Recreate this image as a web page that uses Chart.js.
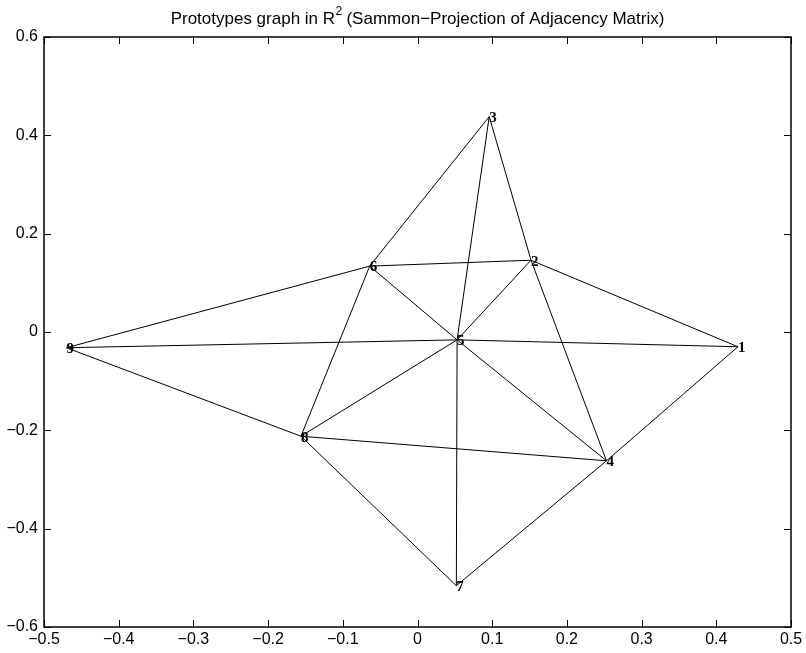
<!DOCTYPE html>
<html>
<head>
<meta charset="utf-8">
<script src="https://cdn.jsdelivr.net/npm/chart.js@4"></script>
<style>
  html, body { margin: 0; padding: 0; background: #fff; }
  #wrap { width: 806px; height: 653px; }
</style>
</head>
<body>
<div id="wrap"><canvas id="c" width="806" height="653"></canvas></div>
<script>
// Prototype positions (Sammon projection) and graph edges
const nodeLabels = ['1', '2', '3', '4', '5', '6', '7', '8', '9'];
const nodeX = [0.429, 0.152, 0.096, 0.253, 0.053, -0.064, 0.052, -0.156, -0.470];
const nodeY = [-0.030, 0.146, 0.438, -0.262, -0.016, 0.134, -0.516, -0.212, -0.032];
const edgeFrom = [9, 9, 9, 6, 6, 6, 6, 3, 3, 2, 2, 2, 5, 5, 5, 5, 8, 8, 7, 4];
const edgeTo   = [6, 5, 8, 3, 2, 5, 8, 5, 2, 4, 5, 1, 1, 4, 8, 7, 4, 7, 4, 1];
const xTicks = [-0.5, -0.4, -0.3, -0.2, -0.1, 0, 0.1, 0.2, 0.3, 0.4, 0.5];
const yTicks = [-0.6, -0.4, -0.2, 0, 0.2, 0.4, 0.6];
const titleMain = 'Prototypes graph in R';
const titleSup = '2';
const titleRest = ' (Sammon\u2212Projection of Adjacency Matrix)';

const fmt = v => (v < 0 ? '\u2212' : '') + (Math.abs(v) < 1e-9 ? '0' : String(Math.abs(v)));

const edgeSets = edgeFrom.map((a, i) => {
  const b = edgeTo[i];
  return {
    type: 'line',
    data: [{ x: nodeX[a - 1], y: nodeY[a - 1] }, { x: nodeX[b - 1], y: nodeY[b - 1] }],
    borderColor: '#000',
    borderWidth: 1,
    pointRadius: 0,
    fill: false,
    tension: 0
  };
});

const nodeSet = {
  type: 'scatter',
  data: nodeX.map((x, i) => ({ x, y: nodeY[i] })),
  pointRadius: 0,
  label: 'nodes'
};

// Frame, inward tick marks, node numbers and the title
const decor = {
  id: 'decor',
  afterDatasetsDraw(chart) {
    const ctx = chart.ctx;
    const a = chart.chartArea;
    const xs = chart.scales.x, ys = chart.scales.y;
    const tl = 7;
    ctx.save();
    ctx.strokeStyle = '#000';
    ctx.lineWidth = 1;
    ctx.beginPath();
    xTicks.forEach(v => {
      const px = Math.round(xs.getPixelForValue(v)) + 0.5;
      ctx.moveTo(px, a.bottom); ctx.lineTo(px, a.bottom - tl);
      ctx.moveTo(px, a.top); ctx.lineTo(px, a.top + tl);
    });
    yTicks.forEach(v => {
      const py = Math.round(ys.getPixelForValue(v)) + 0.5;
      ctx.moveTo(a.left, py); ctx.lineTo(a.left + tl, py);
      ctx.moveTo(a.right, py); ctx.lineTo(a.right - tl, py);
    });
    ctx.stroke();
    ctx.lineWidth = 1.5;
    ctx.strokeRect(a.left, a.top, a.right - a.left, a.bottom - a.top);

    // node numbers
    ctx.fillStyle = '#000';
    ctx.font = 'bold 15px "Liberation Serif", "DejaVu Serif", serif';
    ctx.textAlign = 'left';
    ctx.textBaseline = 'middle';
    nodeLabels.forEach((t, i) => {
      const px = xs.getPixelForValue(nodeX[i]);
      const py = ys.getPixelForValue(nodeY[i]);
      ctx.fillText(t, px, py + 1.5);
    });

    // title with superscript
    const mainFont = '17px "Liberation Sans", Arial, sans-serif';
    const supFont = '12px "Liberation Sans", Arial, sans-serif';
    ctx.textBaseline = 'alphabetic';
    ctx.font = mainFont;
    const w1 = ctx.measureText(titleMain).width;
    const w3 = ctx.measureText(titleRest).width;
    ctx.font = supFont;
    const w2 = ctx.measureText(titleSup).width;
    const total = w1 + w2 + w3;
    let tx = (a.left + a.right) / 2 - total / 2;
    const base = 24;
    ctx.font = mainFont;
    ctx.fillText(titleMain, tx, base);
    tx += w1;
    ctx.font = supFont;
    ctx.fillText(titleSup, tx + 0.5, base - 9);
    tx += w2;
    ctx.font = mainFont;
    ctx.fillText(titleRest, tx, base);
    ctx.restore();
  }
};

new Chart(document.getElementById('c'), {
  type: 'scatter',
  data: { datasets: [...edgeSets, nodeSet] },
  options: {
    responsive: false,
    animation: false,
    layout: { padding: { top: 37, right: 15, left: 0, bottom: 0 } },
    plugins: { legend: { display: false }, title: { display: false }, tooltip: { enabled: false } },
    scales: {
      x: {
        type: 'linear',
        min: -0.5, max: 0.5,
        afterBuildTicks: s => { s.ticks = xTicks.map(v => ({ value: v })); },
        afterFit: s => { s.height = 26; },
        grid: { display: false, drawTicks: false },
        border: { display: false },
        ticks: {
          color: '#000',
          padding: 3,
          maxRotation: 0,
          autoSkip: false,
          font: { family: '"Liberation Sans", Arial, sans-serif', size: 16 },
          callback: v => fmt(v)
        }
      },
      y: {
        type: 'linear',
        min: -0.6, max: 0.6,
        afterBuildTicks: s => { s.ticks = yTicks.map(v => ({ value: v })); },
        afterFit: s => { s.width = 44; },
        grid: { display: false, drawTicks: false },
        border: { display: false },
        ticks: {
          color: '#000',
          padding: 6,
          autoSkip: false,
          font: { family: '"Liberation Sans", Arial, sans-serif', size: 16 },
          callback: v => fmt(v)
        }
      }
    }
  },
  plugins: [decor]
});
</script>
</body>
</html>
